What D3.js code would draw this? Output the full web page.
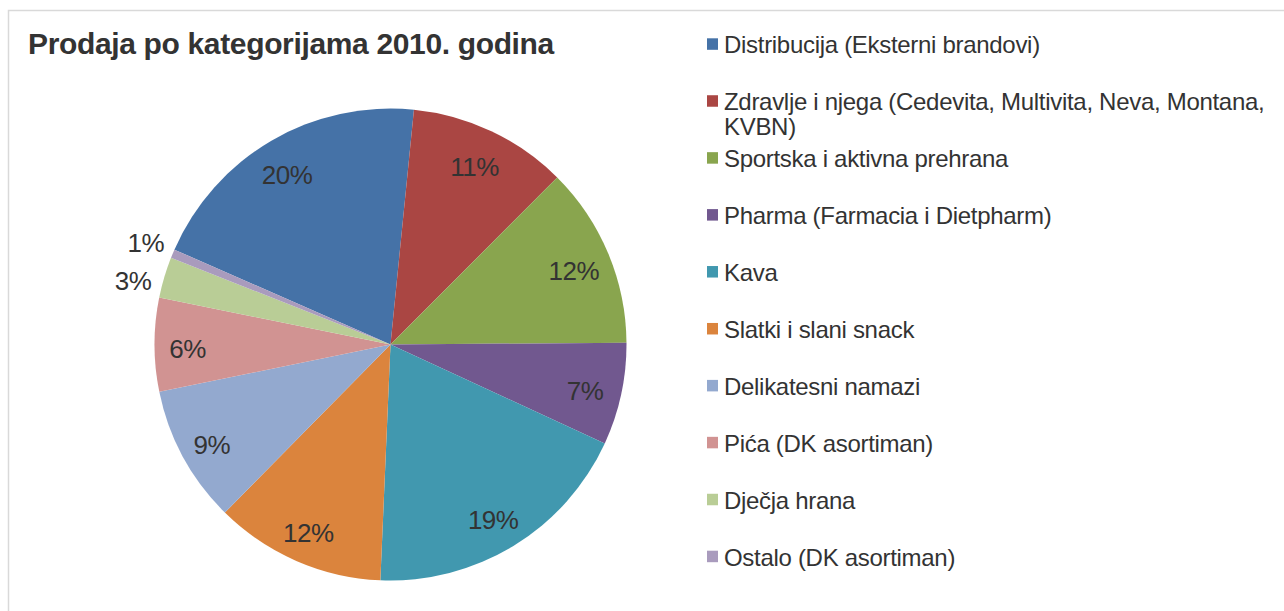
<!DOCTYPE html>
<html>
<head>
<meta charset="utf-8">
<script src="https://cdn.jsdelivr.net/npm/d3@7"></script>
<style>
  html, body { margin: 0; padding: 0; background: #fff; }
  svg { display: block; font-family: "Liberation Sans", Arial, sans-serif; }
</style>
</head>
<body>
<svg id="chart" width="1284" height="611"></svg>
<script>
const title = "Prodaja po kategorijama 2010. godina";
const categories = [
  "Distribucija (Eksterni brandovi)",
  "Zdravlje i njega (Cedevita, Multivita, Neva, Montana, KVBN)",
  "Sportska i aktivna prehrana",
  "Pharma (Farmacia i Dietpharm)",
  "Kava",
  "Slatki i slani snack",
  "Delikatesni namazi",
  "Pića (DK asortiman)",
  "Dječja hrana",
  "Ostalo (DK asortiman)"
];
const legendLines = [
  ["Distribucija (Eksterni brandovi)"],
  ["Zdravlje i njega (Cedevita, Multivita, Neva, Montana,", "KVBN)"],
  ["Sportska i aktivna prehrana"],
  ["Pharma (Farmacia i Dietpharm)"],
  ["Kava"],
  ["Slatki i slani snack"],
  ["Delikatesni namazi"],
  ["Pića (DK asortiman)"],
  ["Dječja hrana"],
  ["Ostalo (DK asortiman)"]
];
const values = [20.0, 10.9, 12.4, 7.0, 18.8, 11.7, 9.4, 6.4, 2.8, 0.6];
const colors = ["#4572A7", "#AA4643", "#89A54E", "#71588F", "#4198AF",
                "#DB843D", "#93A9CF", "#D19392", "#B9CD96", "#A99BBD"];

const svg = d3.select("#chart");

// chart area border
svg.append("rect")
  .attr("x", 8.5).attr("y", 10.5)
  .attr("width", 1400).attr("height", 800)
  .attr("fill", "#fff").attr("stroke", "#d9d9d9").attr("stroke-width", 1.5);

// title
svg.append("text")
  .attr("x", 28).attr("y", 54)
  .attr("font-size", 30).attr("font-weight", "bold")
  .attr("letter-spacing", -0.35)
  .attr("fill", "#333")
  .text(title);

// pie
const cx = 390.5, cy = 344.5, R = 236;
const start = -66.3 * Math.PI / 180;
const pie = d3.pie().sort(null).value(d => d)
  .startAngle(start).endAngle(start + 2 * Math.PI);
const arcs = pie(values);
const arc = d3.arc().innerRadius(0).outerRadius(R);

const g = svg.append("g").attr("transform", `translate(${cx},${cy})`);
g.selectAll("path").data(arcs).join("path")
  .attr("d", arc)
  .attr("fill", (d, i) => colors[i]);

const total = d3.sum(values);
const fmt = v => Math.round(v / total * 100 + 1e-9) + "%";
const rIn = 201, rOut = 265, minGap = 38.8;

// label positions: inside at mid angle, small slices outside with collision push
const pos = arcs.map(d => {
  const a = (d.startAngle + d.endAngle) / 2;
  const outside = d.value / total < 0.04;
  const r = outside ? rOut : rIn;
  return { d, outside, r,
    x: r * Math.sin(a) + (outside ? 0 : -2),
    y: -r * Math.cos(a) + (outside ? 0 : 4) };
});
const outs = pos.filter(p => p.outside).sort((a, b) => a.y - b.y);
for (let k = 1; k < outs.length; k++) {
  if (outs[k].y - outs[k - 1].y < minGap) {
    outs[k].y = outs[k - 1].y + minGap;
    const sx = outs[k].x < 0 ? -1 : 1;
    outs[k].x = sx * Math.sqrt(Math.max(0, outs[k].r * outs[k].r - outs[k].y * outs[k].y));
  }
}

g.selectAll("text.lbl").data(pos).join("text")
  .attr("class", "lbl")
  .attr("x", p => p.x).attr("y", p => p.y)
  .attr("text-anchor", "middle")
  .attr("dy", "0.35em")
  .attr("font-size", 26)
  .attr("letter-spacing", -0.5)
  .attr("fill", "#333")
  .text(p => fmt(p.d.value));

// legend
const ly = d3.scaleLinear().domain([0, 9]).range([53.3, 565.7]);
const leg = svg.append("g");
const items = leg.selectAll("g").data(legendLines).join("g")
  .attr("transform", (d, i) => `translate(0,${ly(i)})`);
items.append("rect")
  .attr("x", 707).attr("y", -15).attr("width", 11).attr("height", 11.5)
  .attr("fill", (d, i) => colors[i]);
items.each(function(lines) {
  const t = d3.select(this).append("text")
    .attr("font-size", 24)
    .attr("letter-spacing", -0.3)
    .attr("fill", "#333");
  lines.forEach((s, k) => {
    t.append("tspan").attr("x", 724).attr("y", k * 25).text(s);
  });
});
</script>
</body>
</html>
